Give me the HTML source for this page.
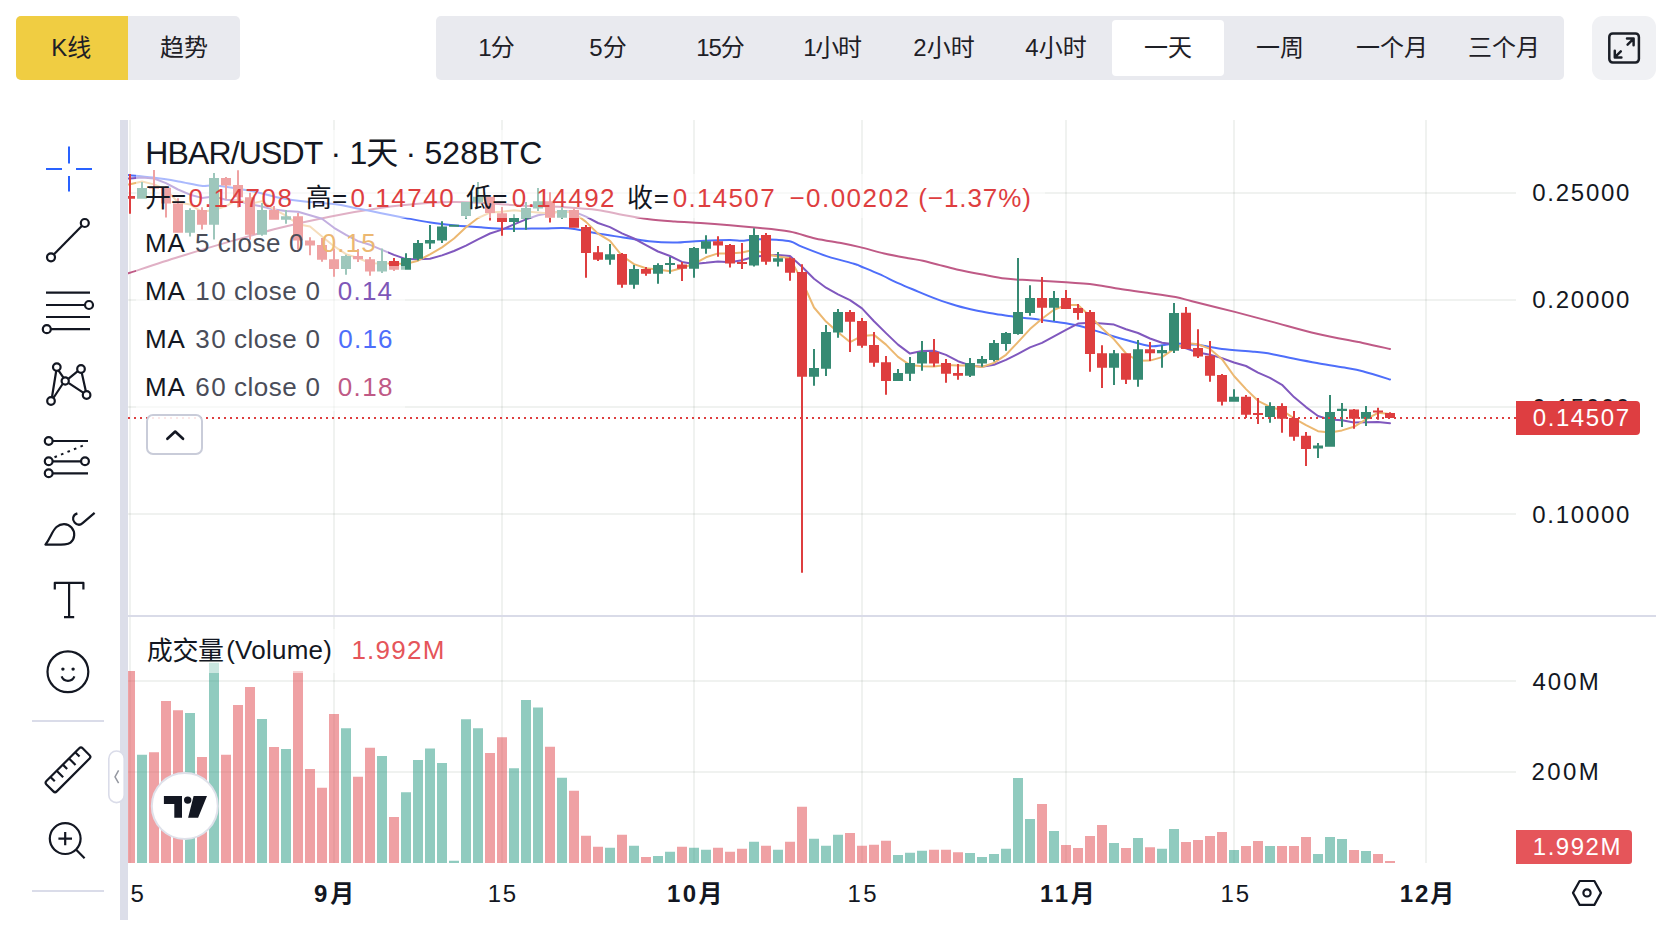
<!DOCTYPE html>
<html lang="zh-CN"><head><meta charset="utf-8"><title>HBAR/USDT</title>
<style>
html,body{margin:0;padding:0;background:#fff}
body{width:1666px;height:930px;position:relative;overflow:hidden;font-family:"Liberation Sans","Noto Sans CJK SC",sans-serif;color:#131722}
.abs{position:absolute}
.chart{position:absolute;left:0;top:0}
.seg{position:absolute;top:16px;height:64px;background:#e9eaef;border-radius:5px}
.seg .b{position:absolute;top:0;height:64px;line-height:64px;text-align:center;font-size:24px;color:#1e2026;white-space:nowrap}
.t{position:absolute;white-space:nowrap;line-height:1}
.fade{position:absolute;background:rgba(255,255,255,.52)}
.lg{position:absolute;left:146px;white-space:nowrap;font-size:26px;line-height:30px;letter-spacing:.2px}
.ax{position:absolute;left:1533px;font-size:24px;line-height:28px;letter-spacing:1.25px;white-space:nowrap}
.tx{position:absolute;top:879px;font-size:24px;line-height:28px;white-space:nowrap;transform:translateX(-50%);letter-spacing:1px}
.p{position:absolute;white-space:nowrap;line-height:40px}
</style></head><body>
<div class="seg" style="left:16px;width:224px">
<div class="b" style="left:0;width:112px;background:#f0cd42;border-radius:5px 0 0 5px;text-indent:-1.6px">K线</div>
<div class="b" style="left:112px;width:112px">趋势</div>
</div>
<div class="seg" style="left:436px;width:1128px">
<div class="abs" style="left:676px;top:4px;width:112px;height:56px;background:#fff;border-radius:4px"></div>
<div class="b" style="left:4px;width:112px;letter-spacing:-1px">1分</div>
<div class="b" style="left:116px;width:112px">5分</div>
<div class="b" style="left:228px;width:112px;letter-spacing:-1px">15分</div>
<div class="b" style="left:340px;width:112px;letter-spacing:-1.3px">1小时</div>
<div class="b" style="left:452px;width:112px">2小时</div>
<div class="b" style="left:564px;width:112px">4小时</div>
<div class="b" style="left:676px;width:112px">一天</div>
<div class="b" style="left:788px;width:112px">一周</div>
<div class="b" style="left:900px;width:112px">一个月</div>
<div class="b" style="left:1012px;width:112px">三个月</div>
</div>
<div class="abs" style="left:1592px;top:16px;width:64px;height:64px;background:#f0f1f4;border-radius:11px"></div>
<div class="abs" style="left:120px;top:120px;width:8px;height:800px;background:#dcdee9"></div>
<svg class="chart" width="1666" height="930" viewBox="0 0 1666 930">
<defs><clipPath id="cm"><rect x="128" y="120" width="1388" height="495"/></clipPath><clipPath id="cv"><rect x="128" y="617" width="1388" height="246"/></clipPath></defs>
<g fill="#28402f" fill-opacity=".07">
<rect x="129" y="120" width="2" height="743"/>
<rect x="333" y="120" width="2" height="743"/>
<rect x="501" y="120" width="2" height="743"/>
<rect x="693" y="120" width="2" height="743"/>
<rect x="861" y="120" width="2" height="743"/>
<rect x="1065" y="120" width="2" height="743"/>
<rect x="1233" y="120" width="2" height="743"/>
<rect x="1425" y="120" width="2" height="743"/>
<rect x="128" y="192" width="1388" height="2"/>
<rect x="128" y="299" width="1388" height="2"/>
<rect x="128" y="406" width="1388" height="2"/>
<rect x="128" y="513" width="1388" height="2"/>
<rect x="128" y="680" width="1388" height="2"/>
<rect x="128" y="771" width="1388" height="2"/>
</g>
<rect x="128" y="615" width="1528" height="2" fill="#d9dbe8"/>
<g clip-path="url(#cv)">
<path fill="#229880" fill-opacity=".5" d="M137 754.8h10V863h-10zM185 713h10V863h-10zM209 662.7h10V863h-10zM257 719h10V863h-10zM281 749.1h10V863h-10zM341 728.2h10V863h-10zM377 756.1h10V863h-10zM401 792.2h10V863h-10zM413 760h10V863h-10zM425 748.4h10V863h-10zM437 763h10V863h-10zM449 860.8h10V863h-10zM461 719.2h10V863h-10zM473 728.2h10V863h-10zM509 768.2h10V863h-10zM521 700.1h10V863h-10zM533 707.6h10V863h-10zM557 777.7h10V863h-10zM605 847.8h10V863h-10zM629 845.8h10V863h-10zM653 855.9h10V863h-10zM665 851.8h10V863h-10zM689 847.8h10V863h-10zM701 849.8h10V863h-10zM749 841.8h10V863h-10zM773 849.8h10V863h-10zM809 838.7h10V863h-10zM821 845.8h10V863h-10zM833 834.7h10V863h-10zM893 854.9h10V863h-10zM905 852.8h10V863h-10zM917 850.8h10V863h-10zM965 853h10V863h-10zM977 857.1h10V863h-10zM989 854.1h10V863h-10zM1001 848.8h10V863h-10zM1013 777.9h10V863h-10zM1025 819h10V863h-10zM1049 830.9h10V863h-10zM1109 843h10V863h-10zM1133 838.1h10V863h-10zM1157 848.8h10V863h-10zM1169 829h10V863h-10zM1229 849.9h10V863h-10zM1265 846.1h10V863h-10zM1313 854.1h10V863h-10zM1325 837h10V863h-10zM1337 838.9h10V863h-10zM1361 851h10V863h-10z"/>
<path fill="#e0444a" fill-opacity=".5" d="M125 671h10V863h-10zM149 752.2h10V863h-10zM161 701.1h10V863h-10zM173 710.2h10V863h-10zM197 756.9h10V863h-10zM221 754.8h10V863h-10zM233 705h10V863h-10zM245 687h10V863h-10zM269 747h10V863h-10zM293 671h10V863h-10zM305 769h10V863h-10zM317 787.8h10V863h-10zM329 714h10V863h-10zM353 776.7h10V863h-10zM365 747.8h10V863h-10zM389 817h10V863h-10zM485 753h10V863h-10zM497 737.3h10V863h-10zM545 746.7h10V863h-10zM569 790.8h10V863h-10zM581 835.7h10V863h-10zM593 846.8h10V863h-10zM617 834.7h10V863h-10zM641 856.9h10V863h-10zM677 846.8h10V863h-10zM713 847.8h10V863h-10zM725 851.8h10V863h-10zM737 848.8h10V863h-10zM761 845.8h10V863h-10zM785 841.8h10V863h-10zM797 806.7h10V863h-10zM845 832.9h10V863h-10zM857 845.8h10V863h-10zM869 844.8h10V863h-10zM881 840.7h10V863h-10zM929 849.8h10V863h-10zM941 849.8h10V863h-10zM953 852.2h10V863h-10zM1037 804.1h10V863h-10zM1061 845h10V863h-10zM1073 848h10V863h-10zM1085 835.9h10V863h-10zM1097 825.1h10V863h-10zM1121 848h10V863h-10zM1145 847.2h10V863h-10zM1181 841.9h10V863h-10zM1193 840h10V863h-10zM1205 835.9h10V863h-10zM1217 832h10V863h-10zM1241 846.1h10V863h-10zM1253 841.1h10V863h-10zM1277 846.1h10V863h-10zM1289 846.1h10V863h-10zM1301 837h10V863h-10zM1349 849.9h10V863h-10zM1373 854.1h10V863h-10zM1385 861h10V863h-10z"/>
</g>
<g clip-path="url(#cm)">
<g fill="none" stroke-width="2" stroke-linejoin="round" stroke-linecap="round">
<path stroke="#bf5a86" d="M128 273.4 C136.4 270.7 161.6 262.2 178.4 257 C195.2 251.8 212 246.7 228.8 241.9 C245.6 237.1 262.4 232.2 279.2 228 C296 223.8 312.9 220 329.7 216.7 C346.5 213.3 363.2 210.2 380 207.9 C396.8 205.6 417.9 203.8 430.5 202.8 C443.1 201.8 447.3 202 455.7 202 C464.1 202 472.6 202.4 481 202.8 C489.4 203.2 497.7 204.1 506 204.6 C514.3 205.1 521.6 205.6 531 206 C540.4 206.4 551.5 206.4 562.6 207.1 C573.7 207.8 587.3 208.6 597.4 209.9 C607.5 211.2 614.6 213.5 623.2 215.1 C631.8 216.7 640.4 218.2 649 219.3 C657.6 220.4 666.2 220.9 674.8 221.5 C683.4 222.1 691.4 222.4 700.6 223 C709.8 223.6 721 224.5 730 225.3 C739 226.1 744.7 226.6 754.6 227.6 C764.5 228.6 779.3 229.7 789.4 231.5 C799.5 233.3 806.6 236.6 815.2 238.5 C823.8 240.4 833.5 241.7 841 243.1 C848.5 244.5 852.8 245.4 860 247.1 C867.2 248.8 876.1 251.6 884.2 253.4 C892.3 255.2 902 257 908.4 258.2 C914.8 259.4 918.1 259.6 922.9 260.7 C927.7 261.8 931.8 263.1 937.4 264.5 C943 265.9 949.5 267.8 956.8 269.4 C964.1 271 972.9 272.7 981 274.2 C989.1 275.7 997 277.6 1005.2 278.6 C1013.4 279.6 1020.3 279.7 1030.4 280.3 C1040.5 280.9 1055.2 281.6 1065.9 282.3 C1076.7 283 1086 283.6 1094.9 284.7 C1103.8 285.8 1111 287.4 1119.1 288.7 C1127.2 290 1133.9 290.9 1143.3 292.3 C1152.7 293.7 1167.4 295.6 1175.5 297.1 C1183.6 298.6 1182.1 298.8 1192 301.3 C1201.9 303.8 1221.6 308.5 1234.8 311.9 C1248 315.3 1257.7 318 1271.4 321.6 C1285.1 325.2 1301.8 330.2 1317 333.8 C1332.2 337.4 1350.5 340.4 1362.7 342.9 C1374.9 345.4 1385.5 348 1390 349"/>
<path stroke="#4e6efa" d="M128 175.1 C132.2 175.5 144.8 176.5 153.2 177.6 C161.6 178.7 170.4 180.1 178.4 181.4 C186.4 182.8 195.6 185 201.1 185.7 C206.6 186.4 207.1 185.3 211.7 185.6 C216.3 185.8 221.8 186.2 228.8 187.2 C235.9 188.2 245.6 189.7 254 191.5 C262.4 193.3 270.8 196.1 279.2 197.8 C287.6 199.5 295.4 200.6 304.5 201.6 C313.6 202.6 325.6 203 334 204.1 C342.4 205.2 347.2 206.4 354.9 207.9 C362.6 209.4 371.6 211.2 380 212.9 C388.4 214.6 396.9 216.3 405.3 217.9 C413.7 219.5 422.1 221.2 430.5 222.5 C438.9 223.8 447.3 224.7 455.7 225.5 C464.1 226.3 472.6 226.8 481 227.3 C489.4 227.9 497.6 228.6 506 228.8 C514.4 229 524.7 228.6 531.3 228.5 C537.9 228.4 540.6 228.5 545.8 228.4 C551 228.3 557.9 227.9 562.6 228 C567.3 228.1 568.4 228.1 574.2 229 C580 229.9 589.2 232.1 597.4 233.5 C605.6 234.9 614.6 236.1 623.2 237.4 C631.8 238.7 640.4 240.4 649 241.3 C657.6 242.2 666.2 242.7 674.8 242.6 C683.4 242.5 691.4 241.3 700.6 240.9 C709.8 240.5 723.1 240 730 240 C736.9 240 737.6 240.8 741.7 240.7 C745.8 240.6 748.8 239.6 754.6 239.4 C760.4 239.2 770.5 239.5 776.5 239.8 C782.5 240.2 786.4 240.3 790.7 241.5 C795 242.7 796.1 244.4 802.3 246.9 C808.5 249.4 819.5 253.8 828.1 256.6 C836.7 259.4 848.6 262.1 853.9 263.7 C859.2 265.3 855.8 264.2 860 266 C864.2 267.8 872.9 271.3 879.4 274.2 C885.9 277.1 892.2 280.5 898.7 283.4 C905.2 286.3 911.7 288.9 918.1 291.6 C924.5 294.3 931 297 937.4 299.4 C943.8 301.8 950.3 303.8 956.8 305.7 C963.3 307.6 969.8 309.1 976.2 310.5 C982.7 311.9 989.2 312.8 995.5 313.9 C1001.8 314.9 1008.1 316 1013.9 316.8 C1019.7 317.6 1023.6 317.7 1030.4 318.5 C1037.2 319.3 1046.5 320.6 1054.6 321.8 C1062.7 323 1070.7 323.9 1078.8 325.8 C1086.9 327.7 1094.9 330.7 1103 333.1 C1111.1 335.5 1119.4 338.2 1127.2 340.3 C1135 342.4 1143.9 345.2 1149.7 346 C1155.5 346.8 1157.7 345.6 1162 345.2 C1166.3 344.8 1170.5 343.6 1175.5 343.5 C1180.5 343.4 1188.2 344.3 1192 344.5 C1195.8 344.7 1193.3 344.1 1198.3 344.8 C1203.3 345.6 1212.9 347.9 1222 349 C1231.1 350.1 1244.9 350.9 1253.1 351.7 C1261.3 352.5 1264.7 352.8 1271.4 353.9 C1278.1 355 1285.7 357 1293.3 358.5 C1300.9 360 1308.5 361.5 1317 363 C1325.5 364.5 1336.8 366.2 1344.4 367.6 C1352 369 1355.1 369.3 1362.7 371.3 C1370.3 373.3 1385.5 378.1 1390 379.5"/>
<path stroke="#8058be" d="M128 178.6 L130 178.5 L142 177.5 L154 178.5 L166 183.1 L178 189.5 L190 194.7 L202 197.9 L214 196.6 L226 199.8 L238 200.7 L250 204.2 L262 206.5 L274 209.6 L286 210.9 L298 211.7 L310 215.2 L322 218.7 L334 227.8 L346 234.9 L358 241.1 L370 244.8 L382 249.9 L394 254.9 L406 259.1 L418 259.3 L430 258.8 L442 255.4 L454 251 L466 245.6 L478 239.3 L490 233.5 L502 229.6 L514 224.4 L526 219.4 L538 215.2 L550 213 L562 211.3 L574 211.6 L586 216.7 L598 223 L610 227.1 L622 233.4 L634 238.5 L646 245.1 L658 251.5 L670 256 L682 261.9 L694 263.9 L706 262.8 L718 261.4 L730 262.3 L742 260.2 L754 256.8 L766 255.6 L778 254.9 L790 255.9 L802 266.7 L814 278.7 L826 287.7 L838 294.4 L850 300.2 L862 308.4 L874 321.2 L886 333.1 L898 344.6 L910 353.6 L922 351.1 L934 350.7 L946 354.9 L958 361.2 L970 365.4 L982 366.7 L994 364.7 L1006 359.9 L1018 353.8 L1030 347.4 L1042 342.9 L1054 336.4 L1066 329.9 L1078 323.6 L1090 322.7 L1102 323.6 L1114 324.6 L1126 329.2 L1138 333 L1150 338.5 L1162 342.7 L1174 344.2 L1186 348.2 L1198 352.6 L1210 354.7 L1222 358.1 L1234 362.5 L1246 366 L1258 372.6 L1270 377.9 L1282 384.8 L1294 397.1 L1306 407.1 L1318 416 L1330 419.6 L1342 420.3 L1354 422.5 L1366 422.3 L1378 422 L1390 423.2"/>
<path stroke="#ecb871" d="M128 184.4 L130 184.2 L142 181.5 L154 184.4 L166 189.5 L178 202.3 L190 204.5 L202 211.9 L214 209.8 L226 206.2 L238 199.1 L250 204 L262 201.1 L274 209.4 L286 215.6 L298 224.3 L310 226.5 L322 236.4 L334 246.2 L346 254.2 L358 258 L370 263.2 L382 263.4 L394 263.5 L406 263.9 L418 260.7 L430 254.3 L442 247.4 L454 238.5 L466 227.2 L478 218 L490 212.6 L502 211.7 L514 210.3 L526 211.5 L538 212.4 L550 213.4 L562 211 L574 212.9 L586 221.9 L598 233.6 L610 240.9 L622 255.8 L634 264.1 L646 268.3 L658 269.4 L670 271.2 L682 268 L694 263.8 L706 257.3 L718 253.4 L730 253.4 L742 252.4 L754 249.8 L766 253.9 L778 256.5 L790 258.3 L802 280.9 L814 307.5 L826 321.6 L838 332.3 L850 342.1 L862 335.9 L874 334.9 L886 344.6 L898 356.9 L910 365.1 L922 366.3 L934 366.5 L946 365.1 L958 365.6 L970 365.6 L982 367 L994 362.9 L1006 354.8 L1018 342.1 L1030 329.1 L1042 318.8 L1054 309.8 L1066 305 L1078 305.1 L1090 316.3 L1102 328.3 L1114 339.3 L1126 353.5 L1138 360.8 L1150 360.6 L1162 357.1 L1174 349 L1186 342.9 L1198 344.3 L1210 348.9 L1222 359.2 L1234 376 L1246 389.1 L1258 400.8 L1270 406.9 L1282 410.3 L1294 418.3 L1306 425.1 L1318 431.2 L1330 432.4 L1342 430.4 L1354 426.8 L1366 419.4 L1378 412.8 L1390 414"/>
</g>
<path fill="#368a73" d="M137 188h10V198.8h-10zM141 182.1h2V198.8h-2zM185 210.1h10V232.7h-10zM189 208.2h2V236.6h-2zM209 177.9h10V224.7h-10zM213 173h2V239.6h-2zM257 210.1h10V234.7h-10zM261 203h2V235.7h-2zM281 216.3h10V219.8h-10zM285 210.1h2V223.7h-2zM341 256.1h10V269h-10zM345 254.8h2V274.8h-2zM377 261h10V271.6h-10zM381 248.4h2V272.9h-2zM401 258h10V269.7h-10zM405 253.3h2V269.7h-2zM413 243h10V258.7h-10zM417 240h2V260.6h-2zM425 240h10V243.5h-10zM429 225.1h2V249h-2zM437 226.4h10V240.6h-10zM441 221.3h2V243h-2zM449 224.7h10V226.7h-10zM453 224.9h2V226.4h-2zM461 201.9h10V215.9h-10zM465 201.9h2V218.7h-2zM473 196.8h10V202.6h-10zM477 181.9h2V202.6h-2zM509 218h10V221.9h-10zM513 214.2h2V231.9h-2zM521 208.1h10V218.5h-10zM525 201.9h2V229.7h-2zM533 201.3h10V208.6h-10zM537 188h2V211h-2zM557 209.9h10V217.7h-10zM561 207.3h2V218.7h-2zM605 254.2h10V259.7h-10zM609 244.1h2V264.8h-2zM629 269h10V284.7h-10zM633 265.1h2V288.7h-2zM653 265.1h10V273.8h-10zM657 263.2h2V283.8h-2zM665 263.1h10V265.1h-10zM669 257h2V273.8h-2zM689 248.1h10V268.8h-10zM693 247.1h2V277.8h-2zM701 241.3h10V248.8h-10zM705 235.2h2V253.8h-2zM749 235.1h10V265.6h-10zM753 228.2h2V266.5h-2zM773 258.3h10V261.8h-10zM777 252.1h2V266.5h-2zM809 368.1h10V376.8h-10zM813 349h2V385.8h-2zM821 332h10V368.8h-10zM825 325.1h2V375.9h-2zM833 312h10V332.6h-10zM837 309h2V337.8h-2zM893 373.1h10V380.9h-10zM897 369h2V380.9h-2zM905 363h10V373.8h-10zM909 357h2V380.9h-2zM917 351.9h10V363.6h-10zM921 341h2V370.7h-2zM965 363h10V375.7h-10zM969 358h2V377h-2zM977 359.1h10V363.6h-10zM981 356.1h2V366.8h-2zM989 343.1h10V360h-10zM993 340h2V361.6h-2zM1001 333.1h10V343.9h-10zM1005 331.9h2V350.8h-2zM1013 312.1h10V333.9h-10zM1017 258.1h2V334.7h-2zM1025 298.1h10V312.9h-10zM1029 285.2h2V315.8h-2zM1049 298.1h10V307.7h-10zM1053 291.1h2V321h-2zM1109 353.2h10V367.7h-10zM1113 350h2V385h-2zM1133 349.2h10V379.8h-10zM1137 340h2V386.8h-2zM1157 350h10V353.2h-10zM1161 345.2h2V367.7h-2zM1169 312.9h10V350.8h-10zM1173 302.9h2V352.9h-2zM1229 396.8h10V401.8h-10zM1233 389.2h2V401.8h-2zM1265 406h10V416.9h-10zM1269 402.3h2V422.8h-2zM1313 445.6h10V448.5h-10zM1317 442.9h2V458h-2zM1325 412h10V446.7h-10zM1329 395h2V446.7h-2zM1337 408.7h10V410.9h-10zM1341 402.9h2V427h-2zM1361 412h10V418.8h-10zM1365 406h2V426.1h-2z"/>
<path fill="#de3e3f" d="M125 196.1h10V198.8h-10zM129 174.1h2V213.8h-2zM149 186.8h10V188.8h-10zM153 170h2V191.8h-2zM161 187.8h10V203.6h-10zM165 186.2h2V217.6h-2zM173 203.6h10V232.7h-10zM177 198.3h2V232.7h-2zM197 210.1h10V224.7h-10zM201 207.3h2V229.5h-2zM221 177.9h10V185.4h-10zM225 176.9h2V199.2h-2zM233 185h10V197.2h-10zM237 170.2h2V207.6h-2zM245 197.2h10V234.7h-10zM249 192.7h2V239.8h-2zM269 210.1h10V219.8h-10zM273 206h2V219.8h-2zM293 216.2h10V240.5h-10zM297 213h2V249.5h-2zM305 240.5h10V245.6h-10zM309 237.2h2V255.3h-2zM317 245h10V259.8h-10zM321 237.9h2V261.7h-2zM329 259.3h10V269h-10zM333 248.4h2V276.7h-2zM353 256.1h10V259.3h-10zM357 249h2V261.9h-2zM365 259.3h10V271.6h-10zM369 257.1h2V275.7h-2zM389 261h10V269.7h-10zM393 258h2V270.9h-2zM485 196.8h10V212.9h-10zM489 196.8h2V220.6h-2zM497 213.3h10V221.9h-10zM501 207.1h2V235.7h-2zM545 201.3h10V217.7h-10zM549 192.3h2V222.6h-2zM569 209.9h10V227.7h-10zM573 208.4h2V227.7h-2zM581 227.1h10V252.9h-10zM585 225.1h2V277.8h-2zM593 252.2h10V259.7h-10zM597 246h2V261h-2zM617 253.9h10V284.7h-10zM621 252.9h2V287.7h-2zM641 269h10V273.8h-10zM645 267.1h2V275.8h-2zM677 264.5h10V268.8h-10zM681 261.9h2V280.9h-2zM713 241.2h10V245.4h-10zM717 236.2h2V256.7h-2zM725 245h10V263.4h-10zM729 244.1h2V267.6h-2zM737 261.9h10V263.9h-10zM741 243.1h2V268.9h-2zM761 235.1h10V261.8h-10zM765 233h2V264.7h-2zM785 258.3h10V272.7h-10zM789 257.2h2V280.7h-2zM797 272.1h10V376.8h-10zM801 264.3h2V572.7h-2zM845 312h10V321.7h-10zM849 310.1h2V351.9h-2zM857 321h10V345.8h-10zM861 318h2V347.7h-2zM869 345.1h10V362.8h-10zM873 332h2V366.8h-2zM881 362.2h10V380.9h-10zM885 356.1h2V394.8h-2zM929 351.9h10V363.6h-10zM933 339h2V366.8h-2zM941 363h10V373.8h-10zM945 359.1h2V382.8h-2zM953 373.1h10V375.7h-10zM957 363.9h2V379.7h-2zM1037 298.1h10V307.7h-10zM1041 277.1h2V322.9h-2zM1061 298.1h10V308.9h-10zM1065 290h2V308.9h-2zM1073 308.1h10V312.9h-10zM1077 304h2V319.8h-2zM1085 312.1h10V354h-10zM1089 310h2V371.8h-2zM1097 353.2h10V367.7h-10zM1101 345.2h2V387.9h-2zM1121 353.2h10V379.8h-10zM1125 353.2h2V383.9h-2zM1145 349.2h10V353.2h-10zM1149 341.9h2V361h-2zM1181 312.8h10V349h-10zM1185 307h2V349h-2zM1193 347.9h10V356.6h-10zM1197 329.2h2V357.9h-2zM1205 355.7h10V375.8h-10zM1209 341.1h2V381.7h-2zM1217 374.9h10V401.8h-10zM1221 374h2V405.6h-2zM1241 396.8h10V414.7h-10zM1245 395h2V417.9h-2zM1253 412.9h10V415.1h-10zM1257 398.1h2V423.9h-2zM1277 406h10V418.8h-10zM1281 403.2h2V432.8h-2zM1289 417.9h10V436.7h-10zM1293 410.9h2V440.7h-2zM1301 435.8h10V448.9h-10zM1305 431.9h2V465.9h-2zM1349 409.6h10V418.8h-10zM1353 409.1h2V428.8h-2zM1373 410.4h10V412.4h-10zM1377 407.8h2V419.7h-2zM1385 413h10V418h-10zM1389 412.3h2V418h-2z"/>
</g>
<path d="M128 418H1516" stroke="#de3e3f" stroke-width="2" stroke-dasharray="2 4" fill="none"/>
</svg><svg class="chart" width="1666" height="930" viewBox="0 0 1666 930" fill="none" stroke="#131722" stroke-width="2.2" stroke-linecap="butt" stroke-linejoin="round">
<!-- fullscreen -->
<g stroke="#1b1f27" stroke-width="2.5" stroke-linecap="round">
<rect x="1609.3" y="33.5" width="29.6" height="29" rx="3.4"/>
<path d="M1627.6 44.6L1633.4 38.8M1627 38.6H1633.6V45.2M1620.8 51.4L1615 57.2M1621.4 57.4H1614.8V50.8"/>
</g>
<!-- crosshair -->
<path stroke="#2962ff" stroke-width="2" d="M69 146.5V163.5M69 176V191.5M46 169H62M76 169H92"/>
<!-- trend line -->
<circle cx="84.8" cy="223" r="4"/><circle cx="51" cy="257.3" r="4"/><path d="M54 254.3L81.8 226"/>
<!-- fib -->
<path d="M46 292.7H90M46 305H84.6M46 317H90M51 329.2H90"/><circle cx="89" cy="305" r="4"/><circle cx="46.8" cy="329.2" r="4"/>
<!-- pattern -->
<path d="M52 397L56.2 371M58.6 370.6L63.6 377.8M62.6 384L53.4 398M68.6 378.6L77.8 371.2M81.8 373L85.8 391M83.2 392.6L68.8 383.2"/>
<circle cx="56.8" cy="367.1" r="3.8"/><circle cx="81" cy="369" r="3.8"/><circle cx="65.2" cy="381" r="3.6"/><circle cx="86.6" cy="395" r="3.8"/><circle cx="51" cy="401" r="3.8"/>
<!-- prediction -->
<path d="M52.8 441H88M52.8 461.3H81M52.8 473.3H88"/><path d="M54.5 457.2L85.5 444.6" stroke-dasharray="2.6 4.4" stroke-width="2"/>
<circle cx="48.7" cy="441" r="3.9"/><circle cx="48.7" cy="461.3" r="3.9"/><circle cx="85" cy="461.3" r="3.9"/><circle cx="48.7" cy="473.3" r="3.9"/>
<!-- brush -->
<path d="M45.4 544.6C50.5 538 52 531 56.5 527C61 523 67.5 523 71.5 527.5C75.5 532 75 539 70.5 542.6C67.5 545 63 544.6 45.4 544.6Z"/>
<path d="M77.4 513.4C72.5 515 72 519.5 74.6 522.4C77 525 80 525.4 82.6 523.2L94.6 512.8"/>
<!-- text -->
<path d="M54.8 589.5V582.8H83.4V589.5M69.1 582.8V617.2M64 617.2H74.2"/>
<!-- smile -->
<circle cx="67.9" cy="671.8" r="20.4"/><circle cx="62.9" cy="669.1" r="1.7" fill="#131722" stroke="none"/><circle cx="73.1" cy="669.1" r="1.7" fill="#131722" stroke="none"/>
<path d="M61.6 676.4C64 682.4 72 682.4 74.4 676.4"/>
<!-- separators -->
<path stroke="#dadce9" stroke-width="2" d="M32 721H104M32 891H104"/>
<!-- ruler -->
<g transform="translate(68 769.8) rotate(-45)"><rect x="-25.6" y="-7.3" width="51.2" height="14.6" rx="2.4"/><path d="M-17.5 -7.3V-1.2M-8.75 -7.3V1.9M0 -7.3V-1.2M8.75 -7.3V1.9M17.5 -7.3V-1.2"/></g>
<!-- zoom -->
<circle cx="65.2" cy="838.6" r="15.4"/><path d="M58.4 838.6H72M65.2 832V845.2M76.2 849.8L84.6 858.2"/>
<!-- collapse pill -->
<rect x="108.8" y="751" width="15.4" height="51.6" rx="7.7" fill="#fff" stroke="#dadce9" stroke-width="1.6"/>
<path d="M118.6 770.4L115 776.8L118.6 783.2" stroke="#9598a1" stroke-width="1.5"/>
<!-- settings hex -->
<path d="M1573 892.9L1579.6 881H1594.4L1601 892.9L1594.4 904.9H1579.6Z"/><circle cx="1587" cy="892.9" r="3.6"/>
</svg>
<!-- legend fades -->
<div class="fade" style="left:136px;top:130px;width:414px;height:44px"></div>
<div class="fade" style="left:136px;top:174px;width:909px;height:44px"></div>
<div class="fade" style="left:136px;top:218px;width:252px;height:48px"></div>
<div class="fade" style="left:136px;top:266px;width:269px;height:48px"></div>
<div class="fade" style="left:136px;top:314px;width:269px;height:48px"></div>
<div class="fade" style="left:136px;top:362px;width:269px;height:49px"></div>
<div class="fade" style="left:136px;top:629px;width:314px;height:44px"></div>
<!-- legend text -->
<div id="title"><span class="p" style="left:145.2px;top:133.2px;font-size:32px;color:#131722;letter-spacing:-0.85px">HBAR/USDT</span><span class="p" style="left:330.5px;top:133.2px;font-size:32px;color:#131722">·</span><span class="p" style="left:349.6px;top:133.2px;font-size:32px;color:#131722;letter-spacing:-1.10px">1天</span><span class="p" style="left:405.5px;top:133.2px;font-size:32px;color:#131722">·</span><span class="p" style="left:424.4px;top:133.2px;font-size:32px;color:#131722;letter-spacing:0.14px">528BTC</span></div>
<div id="ohlc"><span class="p" style="left:144.9px;top:177.7px;font-size:26px;color:#131722">开</span><span class="p" style="left:171.1px;top:177.7px;font-size:26px;color:#131722">=</span><span class="p" style="left:188.5px;top:177.7px;font-size:26px;color:#de3e3f;letter-spacing:1.60px">0.14708</span><span class="p" style="left:305.8px;top:177.7px;font-size:26px;color:#131722">高</span><span class="p" style="left:332.0px;top:177.7px;font-size:26px;color:#131722">=</span><span class="p" style="left:350.4px;top:177.7px;font-size:26px;color:#de3e3f;letter-spacing:1.55px">0.14740</span><span class="p" style="left:466.0px;top:177.7px;font-size:26px;color:#131722">低</span><span class="p" style="left:492.2px;top:177.7px;font-size:26px;color:#131722">=</span><span class="p" style="left:511.7px;top:177.7px;font-size:26px;color:#de3e3f;letter-spacing:1.48px">0.14492</span><span class="p" style="left:627.0px;top:177.7px;font-size:26px;color:#131722">收</span><span class="p" style="left:653.7px;top:177.7px;font-size:26px;color:#131722">=</span><span class="p" style="left:672.7px;top:177.7px;font-size:26px;color:#de3e3f;letter-spacing:1.32px">0.14507</span><span class="p" style="left:789.4px;top:177.7px;font-size:26px;color:#de3e3f;letter-spacing:1.47px">−0.00202</span><span class="p" style="left:918.3px;top:177.7px;font-size:26px;color:#de3e3f;letter-spacing:0.91px">(−1.37%)</span></div>
<div id="ma5"><span class="p" style="left:145.0px;top:222.8px;font-size:26px;color:#131722;letter-spacing:0.90px">MA</span><span class="p" style="left:195.0px;top:222.8px;font-size:26px;color:#4a4d59">5</span><span class="p" style="left:217.8px;top:222.8px;font-size:26px;color:#4a4d59;letter-spacing:0.47px">close</span><span class="p" style="left:289.1px;top:222.8px;font-size:26px;color:#4a4d59">0</span><span class="p" style="left:321.8px;top:222.8px;font-size:26px;color:#ecb871;letter-spacing:1.10px">0.15</span></div>
<div id="ma10"><span class="p" style="left:145.0px;top:271.0px;font-size:26px;color:#131722;letter-spacing:0.90px">MA</span><span class="p" style="left:195.2px;top:271.0px;font-size:26px;color:#4a4d59;letter-spacing:1.60px">10</span><span class="p" style="left:234.0px;top:271.0px;font-size:26px;color:#4a4d59;letter-spacing:0.52px">close</span><span class="p" style="left:305.6px;top:271.0px;font-size:26px;color:#4a4d59">0</span><span class="p" style="left:337.8px;top:271.0px;font-size:26px;color:#7e57b8;letter-spacing:1.20px">0.14</span></div>
<div id="ma30"><span class="p" style="left:145.0px;top:319.0px;font-size:26px;color:#131722;letter-spacing:0.90px">MA</span><span class="p" style="left:195.2px;top:319.0px;font-size:26px;color:#4a4d59;letter-spacing:1.60px">30</span><span class="p" style="left:234.0px;top:319.0px;font-size:26px;color:#4a4d59;letter-spacing:0.52px">close</span><span class="p" style="left:305.6px;top:319.0px;font-size:26px;color:#4a4d59">0</span><span class="p" style="left:338.3px;top:319.0px;font-size:26px;color:#4e6efa;letter-spacing:1.20px">0.16</span></div>
<div id="ma60"><span class="p" style="left:145.0px;top:367.0px;font-size:26px;color:#131722;letter-spacing:0.90px">MA</span><span class="p" style="left:195.2px;top:367.0px;font-size:26px;color:#4a4d59;letter-spacing:1.60px">60</span><span class="p" style="left:234.0px;top:367.0px;font-size:26px;color:#4a4d59;letter-spacing:0.52px">close</span><span class="p" style="left:305.6px;top:367.0px;font-size:26px;color:#4a4d59">0</span><span class="p" style="left:337.7px;top:367.0px;font-size:26px;color:#bf5a86;letter-spacing:1.40px">0.18</span></div>
<div class="abs" style="left:146px;top:414px;width:53px;height:37px;border:2px solid #c9ccd9;border-radius:7px;background:rgba(255,255,255,.88)"></div>
<svg class="chart" width="1666" height="930" viewBox="0 0 1666 930" fill="none">
<path d="M167.4 438.8L175.2 431.6L183 438.8" stroke="#131722" stroke-width="2.7" stroke-linecap="round" stroke-linejoin="round"/>
<circle cx="184.8" cy="806" r="33" fill="#fff" stroke="#dfe1ea" stroke-width="2"/>
<path fill="#131722" d="M163.9 796.1H182V817.7H174.3V803.9H163.9ZM193.6 796.1H207L198.1 817.7H188.1Z"/><circle cx="187.7" cy="800.1" r="3.7" fill="#131722"/>
</svg>
<div id="vol"><span class="p" style="left:146.8px;top:631.4px;font-size:26px;color:#131722;letter-spacing:-0.35px">成交量</span><span class="p" style="left:226.2px;top:629.9px;font-size:26px;color:#131722;letter-spacing:0.24px">(Volume)</span><span class="p" style="left:351.4px;top:630.0px;font-size:26px;color:#e5555a;letter-spacing:1.26px">1.992M</span></div>
<!-- price axis -->
<div id="axis"><span class="p" style="left:1532.3px;top:173.1px;font-size:24px;color:#131722;letter-spacing:1.73px">0.25000</span><span class="p" style="left:1532.3px;top:280.2px;font-size:24px;color:#131722;letter-spacing:1.73px">0.20000</span><span class="p" style="left:1532.3px;top:387.5px;font-size:24px;color:#131722;letter-spacing:1.73px">0.15000</span><span class="p" style="left:1532.3px;top:494.5px;font-size:24px;color:#131722;letter-spacing:1.73px">0.10000</span><span class="p" style="left:1532.4px;top:662.0px;font-size:24px;color:#131722;letter-spacing:2.13px">400M</span><span class="p" style="left:1531.4px;top:752.4px;font-size:24px;color:#131722;letter-spacing:2.47px">200M</span></div>
<div class="abs" style="left:1516px;top:401px;width:124px;height:34px;background:#de3e41;border-radius:0 4px 4px 0"></div>
<div id="pl"><span class="p" style="left:1532.7px;top:398.1px;font-size:24px;color:#fff;letter-spacing:1.60px">0.14507</span></div>
<div class="abs" style="left:1516px;top:830px;width:116px;height:34px;background:#e5555a;border-radius:0 4px 3px 0"></div>
<div id="vl"><span class="p" style="left:1532.8px;top:827.0px;font-size:24px;color:#fff;letter-spacing:1.52px">1.992M</span></div>
<!-- time axis -->
<div id="time"><span class="p" style="left:130.6px;top:874.0px;font-size:24px;color:#131722">5</span><span class="p" style="left:314.0px;top:874.2px;font-size:24px;color:#131722;letter-spacing:3.00px;font-weight:700">9月</span><span class="p" style="left:487.7px;top:874.0px;font-size:24px;color:#131722;letter-spacing:1.80px">15</span><span class="p" style="left:667.0px;top:874.4px;font-size:24px;color:#131722;letter-spacing:2.35px;font-weight:700">10月</span><span class="p" style="left:847.4px;top:874.0px;font-size:24px;color:#131722;letter-spacing:2.50px">15</span><span class="p" style="left:1040.0px;top:874.4px;font-size:24px;color:#131722;letter-spacing:2.75px;font-weight:700">11月</span><span class="p" style="left:1220.4px;top:874.0px;font-size:24px;color:#131722;letter-spacing:1.90px">15</span><span class="p" style="left:1399.8px;top:874.4px;font-size:24px;color:#131722;letter-spacing:1.85px;font-weight:700">12月</span></div>
</body></html>
